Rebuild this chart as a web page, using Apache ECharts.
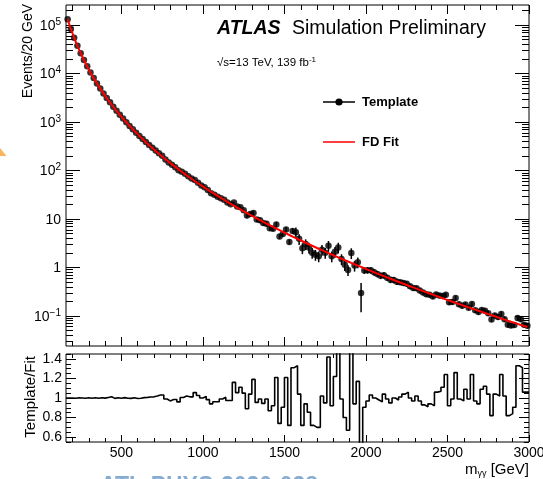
<!DOCTYPE html>
<html><head><meta charset="utf-8">
<script src="https://cdn.jsdelivr.net/npm/echarts@6/dist/echarts.min.js"></script>
<style>html,body{margin:0;padding:0;background:#fff}#c{width:543px;height:479px}</style>
</head><body><div id="c"></div>
<script>
// ---------------- data ----------------
const massBinCenters = [170,190,210,230,250,270,290,310,330,350,370,390,410,430,450,470,490,510,530,550,570,590,610,630,650,670,690,710,730,750,770,790,810,830,850,870,890,910,930,950,970,990,1010,1030,1050,1070,1090,1110,1130,1150,1170,1190,1210,1230,1250,1270,1290,1310,1330,1350,1370,1390,1410,1430,1450,1470,1490,1510,1530,1550,1570,1590,1610,1630,1650,1670,1690,1710,1730,1750,1770,1790,1810,1830,1850,1870,1890,1910,1930,1950,1970,1990,2010,2030,2050,2070,2090,2110,2130,2150,2170,2190,2210,2230,2250,2270,2290,2310,2330,2350,2370,2390,2410,2430,2450,2470,2490,2510,2530,2550,2570,2590,2610,2630,2650,2670,2690,2710,2730,2750,2770,2790,2810,2830,2850,2870,2890,2910,2930,2950,2970,2990];
const binHalfWidth = 10;

const fdFitValues = [131800,83150,54830,37460,26370,19050,14050,10560,8066,6250,
4909,3898,3128,2533,2069,1704,1413,1179,989.7,835.6,
709.4,604.7,518.1,445.8,384.9,333.9,290.4,253.5,221.9,194.9,
171.6,151.6,134.2,119.0,105.8,94.32,84.23,75.39,67.56,60.69,
54.62,49.22,44.43,40.17,36.37,32.97,29.94,27.22,24.78,22.59,
20.61,18.83,17.22,15.76,14.45,13.26,12.17,11.19,10.29,9.478,
8.738,8.059,7.437,6.873,6.355,5.880,5.445,5.045,4.679,4.339,
4.031,3.744,3.481,3.238,3.014,2.808,2.616,2.438,2.275,2.123,
1.983,1.852,1.731,1.619,1.515,1.418,1.328,1.244,1.166,1.093,
1.026,0.9625,0.9036,0.8485,0.7972,0.7494,0.7047,0.6628,0.6235,0.5868,
0.5528,0.5206,0.4903,0.4622,0.4357,0.4110,0.3877,0.3659,0.3453,0.3260,
0.3079,0.2909,0.2749,0.2599,0.2457,0.2324,0.2198,0.2080,0.1968,0.1863,
0.1765,0.1671,0.1583,0.1500,0.1422,0.1348,0.1278,0.1212,0.1150,0.1091,
0.1035,0.09829,0.09331,0.08859,0.08414,0.07990,0.07592,0.07216,0.06860,0.06521,
0.06201,0.05898];

const templateOverFit = [1.000,1.000,0.998,1.002,1.000,0.997,1.003,0.998,1.002,0.997,
1.003,0.999,1.006,1.012,0.996,1.002,0.998,1.004,0.997,0.996,
1.002,0.995,0.998,1.004,1.006,1.010,1.012,1.020,1.030,1.030,
0.990,0.970,0.985,0.985,0.960,1.005,1.020,1.012,1.012,1.055,
1.025,1.000,1.017,0.983,0.940,0.962,0.962,0.990,1.007,0.975,
0.975,1.160,1.055,1.110,1.050,0.890,1.040,1.190,0.955,0.990,
0.945,0.990,0.870,0.920,1.210,0.740,0.905,1.210,0.720,1.310,
1.330,1.040,0.720,0.940,0.855,0.720,0.700,0.700,1.020,0.950,
1.420,0.920,1.220,1.600,0.990,0.800,0.670,1.600,0.940,1.170,
0.290,0.905,0.970,1.030,1.000,0.980,0.960,1.040,0.990,0.950,
1.000,0.980,1.010,1.040,1.060,1.000,0.970,1.020,0.970,0.930,
0.910,0.940,0.920,1.060,1.070,1.110,1.240,0.920,0.990,1.260,
0.990,0.970,1.090,0.990,1.240,0.970,0.940,1.090,1.120,1.040,
0.820,1.040,1.020,1.240,1.020,0.820,0.840,0.906,1.330,1.310,
1.060,1.060];

const templateRelError = [0.01,0.01,0.01,0.01,0.01,0.01,0.01,0.01,0.01,0.01,
0.01,0.01,0.01,0.01,0.01,0.01,0.01,0.01,0.01,0.01,
0.01,0.01,0.01,0.01,0.01,0.01,0.01,0.01,0.01,0.01,
0.01,0.01,0.01,0.01,0.01,0.01,0.01,0.01,0.01,0.01,
0.05,0.05,0.05,0.05,0.05,0.05,0.05,0.05,0.05,0.05,
0.05,0.05,0.05,0.05,0.05,0.12,0.12,0.12,0.12,0.12,
0.12,0.12,0.12,0.12,0.12,0.12,0.12,0.12,0.12,0.12,
0.25,0.25,0.25,0.25,0.25,0.25,0.25,0.25,0.25,0.25,
0.25,0.25,0.25,0.25,0.25,0.25,0.25,0.25,0.25,0.25,
0.60,0.15,0.15,0.15,0.15,0.15,0.15,0.15,0.15,0.15,
0.15,0.15,0.12,0.12,0.12,0.12,0.12,0.12,0.12,0.12,
0.12,0.12,0.12,0.12,0.12,0.12,0.12,0.12,0.12,0.12,
0.12,0.12,0.12,0.12,0.12,0.12,0.12,0.12,0.12,0.12,
0.12,0.12,0.12,0.12,0.12,0.12,0.12,0.12,0.12,0.12,
0.12,0.12];

// ---------------- axis ticks / labels ----------------
const xRange = [160, 3000];
const xMajorTicks = [500,1000,1500,2000,2500,3000];
const xMinorTicks = [200,300,400,600,700,800,900,1100,1200,1300,1400,1600,1700,1800,1900,2100,2200,2300,2400,2600,2700,2800,2900];
const yMainRange = [0.024, 2.6e5];
const yMainMajor = [0.1,1,10,100,1000,10000,100000];
const yMainMinor = [0.03,0.04,0.05,0.06,0.07,0.08,0.09,0.2,0.3,0.4,0.5,0.6,0.7,0.8,0.9,2,3,4,5,6,7,8,9,20,30,40,50,60,70,80,90,200,300,400,500,600,700,800,900,2000,3000,4000,5000,6000,7000,8000,9000,20000,30000,40000,50000,60000,70000,80000,90000,200000];
const yRatioRange = [0.55, 1.45];
const yRatioMajor = [0.6,0.8,1,1.2,1.4];
const yRatioMinor = [0.55,0.65,0.7,0.75,0.85,0.9,0.95,1.05,1.1,1.15,1.25,1.3,1.35,1.45];

// ---------------- build ----------------
const FONT = "'Liberation Sans', Arial, Helvetica, sans-serif";
const lg = Math.log10;
const templateValues = fdFitValues.map((f, i) => f * templateOverFit[i]);
const templatePoints = massBinCenters.map((m, i) => [m, templateValues[i]]);
const errorPoints = massBinCenters.map((m, i) => [m, templateValues[i] * (1 - templateRelError[i]), templateValues[i] * (1 + templateRelError[i])]);
const fitPoints = massBinCenters.map((m, i) => [m, fdFitValues[i]]);
const ratioSteps = massBinCenters.map((m, i) => [m - binHalfWidth, templateOverFit[i]]);
ratioSteps.push([massBinCenters[massBinCenters.length - 1] + binHalfWidth, templateOverFit[templateOverFit.length - 1]]);

const tickStyle = {color: '#000', width: 1};
function xTickAxis(grid, pos, values, len, labels) {
  return {
    type: 'value', gridIndex: grid, position: pos, min: xRange[0], max: xRange[1],
    axisLine: {show: false, onZero: false}, splitLine: {show: false},
    axisTick: {show: true, inside: true, length: len, customValues: values, lineStyle: tickStyle},
    axisLabel: labels ? {show: true, customValues: xMajorTicks, color: '#000', fontSize: 14, fontFamily: FONT, margin: 4, formatter: v => String(v)} : {show: false}
  };
}
function yTickAxis(grid, pos, values, len, range, extra) {
  return Object.assign({
    type: 'value', gridIndex: grid, position: pos, min: range[0], max: range[1],
    axisLine: {show: false, onZero: false}, splitLine: {show: false},
    axisTick: {show: true, inside: true, length: len, customValues: values, lineStyle: tickStyle},
    axisLabel: {show: false}
  }, extra || {});
}
const logRange = [lg(yMainRange[0]), lg(yMainRange[1])];
const logMajor = yMainMajor.map(lg);
const logMinor = yMainMinor.map(lg);

const supRich = {
  b: {fontSize: 14, fontFamily: FONT, color: '#000', lineHeight: 16, verticalAlign: 'bottom'},
  s: {fontSize: 10, fontFamily: FONT, color: '#000', lineHeight: 10, verticalAlign: 'top'}
};
function mainLabel(v) {
  const p = Math.round(v);
  if (p === 0) return '{b|1}';
  if (p === 1) return '{b|10}';
  return '{b|10}{s|' + (p < 0 ? '\u2212' + (-p) : p) + '}';
}

const option = {
  animation: false,
  backgroundColor: '#fff',
  textStyle: {fontFamily: FONT},
  grid: [
    {left: 66, top: 5, width: 463, height: 341, show: true, borderColor: '#000', borderWidth: 1, backgroundColor: 'transparent', containLabel: false, outerBoundsMode: 'none'},
    {left: 66, top: 354, width: 463, height: 88, show: true, borderColor: '#000', borderWidth: 1, backgroundColor: 'transparent', containLabel: false, outerBoundsMode: 'none'}
  ],
  xAxis: [
    xTickAxis(0, 'bottom', xMajorTicks, 9, false),
    xTickAxis(0, 'bottom', xMinorTicks, 5, false),
    xTickAxis(0, 'top', xMajorTicks, 9, false),
    xTickAxis(0, 'top', xMinorTicks, 5, false),
    xTickAxis(1, 'bottom', xMajorTicks, 7, true),
    xTickAxis(1, 'bottom', xMinorTicks, 4, false),
    xTickAxis(1, 'top', xMajorTicks, 7, false),
    xTickAxis(1, 'top', xMinorTicks, 4, false)
  ],
  yAxis: [
    {type: 'log', logBase: 10, gridIndex: 0, position: 'left', min: yMainRange[0], max: yMainRange[1],
     axisLine: {show: false, onZero: false}, axisTick: {show: false}, axisLabel: {show: false}, splitLine: {show: false}},
    yTickAxis(0, 'left', logMajor, 14, logRange, {axisLabel: {show: true, customValues: logMajor, formatter: mainLabel, rich: supRich, margin: 5}}),
    yTickAxis(0, 'left', logMinor, 7, logRange),
    yTickAxis(0, 'right', logMajor, 14, logRange),
    yTickAxis(0, 'right', logMinor, 7, logRange),
    yTickAxis(1, 'left', yRatioMajor, 10, yRatioRange, {axisLabel: {show: true, customValues: yRatioMajor, color: '#000', fontSize: 14, fontFamily: FONT, margin: 4, formatter: v => String(v)}}),
    yTickAxis(1, 'left', yRatioMinor, 5, yRatioRange),
    yTickAxis(1, 'right', yRatioMajor, 10, yRatioRange),
    yTickAxis(1, 'right', yRatioMinor, 5, yRatioRange)
  ],
  series: [
    {type: 'custom', name: 'errors', xAxisIndex: 0, yAxisIndex: 0, data: errorPoints, clip: true, z: 2,
     renderItem: function (params, api) {
       const a = api.coord([api.value(0), api.value(1)]);
       const b = api.coord([api.value(0), api.value(2)]);
       return {type: 'line', shape: {x1: a[0], y1: a[1], x2: b[0], y2: b[1]}, style: {stroke: '#000', lineWidth: 1.5}};
     }},
    {type: 'scatter', name: 'Template', xAxisIndex: 0, yAxisIndex: 0, data: templatePoints, symbol: 'circle', symbolSize: 6.5,
     itemStyle: {color: '#000'}, z: 3, clip: true},
    {type: 'line', name: 'FD Fit', xAxisIndex: 0, yAxisIndex: 0, data: fitPoints, showSymbol: false, symbol: 'none',
     lineStyle: {color: '#ff0000', width: 2}, z: 4, clip: true},
    {type: 'line', name: 'Template/Fit', xAxisIndex: 4, yAxisIndex: 5, data: ratioSteps, step: 'end', showSymbol: false, symbol: 'none',
     lineStyle: {color: '#000', width: 1.6}, z: 3, clip: true}
  ],
  graphic: [
    {type: 'polygon', shape: {points: [[0, 148], [6.5, 156], [0, 156]]}, style: {fill: '#fbb45c'}},
    {type: 'text', x: 217, y: 29, style: {text: 'ATLAS', font: 'italic bold 19.5px ' + FONT, fill: '#000', align: 'left', verticalAlign: 'middle'}},
    {type: 'text', x: 292, y: 29, style: {text: 'Simulation Preliminary', font: '19.5px ' + FONT, fill: '#000', align: 'left', verticalAlign: 'middle'}},
    {type: 'text', x: 217, y: 62, style: {text: '{n|\u221As=13 TeV, 139 fb}{s|-1}', align: 'left', verticalAlign: 'middle',
      rich: {n: {fontSize: 11.5, fontFamily: FONT, color: '#000', lineHeight: 13, verticalAlign: 'bottom'}, s: {fontSize: 8, fontFamily: FONT, color: '#000', lineHeight: 8, verticalAlign: 'top'}}}},
    {type: 'line', shape: {x1: 323, y1: 102, x2: 355, y2: 102}, style: {stroke: '#000', lineWidth: 1.5}},
    {type: 'circle', shape: {cx: 339, cy: 102, r: 3.6}, style: {fill: '#000'}},
    {type: 'text', x: 362, y: 102, style: {text: 'Template', font: 'bold 13px ' + FONT, fill: '#000', align: 'left', verticalAlign: 'middle'}},
    {type: 'line', shape: {x1: 323, y1: 142, x2: 355, y2: 142}, style: {stroke: '#ff0000', lineWidth: 1.5}},
    {type: 'text', x: 362, y: 142, style: {text: 'FD Fit', font: 'bold 13px ' + FONT, fill: '#000', align: 'left', verticalAlign: 'middle'}},
    {type: 'text', x: 28, y: 4, rotation: Math.PI / 2, style: {text: 'Events/20 GeV', font: '14px ' + FONT, fill: '#000', align: 'right', verticalAlign: 'middle'}},
    {type: 'text', x: 31, y: 356, rotation: Math.PI / 2, style: {text: 'Template/Fit', font: '15px ' + FONT, fill: '#000', align: 'right', verticalAlign: 'middle'}},
    {type: 'text', x: 529, y: 470, style: {text: '{n|m}{sub|\u03B3\u03B3}{n| [GeV]}', align: 'right', verticalAlign: 'middle',
      rich: {n: {fontSize: 15, fontFamily: FONT, color: '#000', lineHeight: 16, verticalAlign: 'top'}, sub: {fontSize: 9, fontFamily: FONT, color: '#000', lineHeight: 9, verticalAlign: 'bottom'}}}},
    {type: 'text', x: 100, y: 475, style: {text: 'ATL-PHYS-2020-028', font: 'bold 23px ' + FONT, fill: '#86acd0', align: 'left', verticalAlign: 'top'}}
  ]
};
const chart = echarts.init(document.getElementById('c'), null, {renderer: 'canvas', width: 543, height: 479});
chart.setOption(option);
</script>
</body></html>
